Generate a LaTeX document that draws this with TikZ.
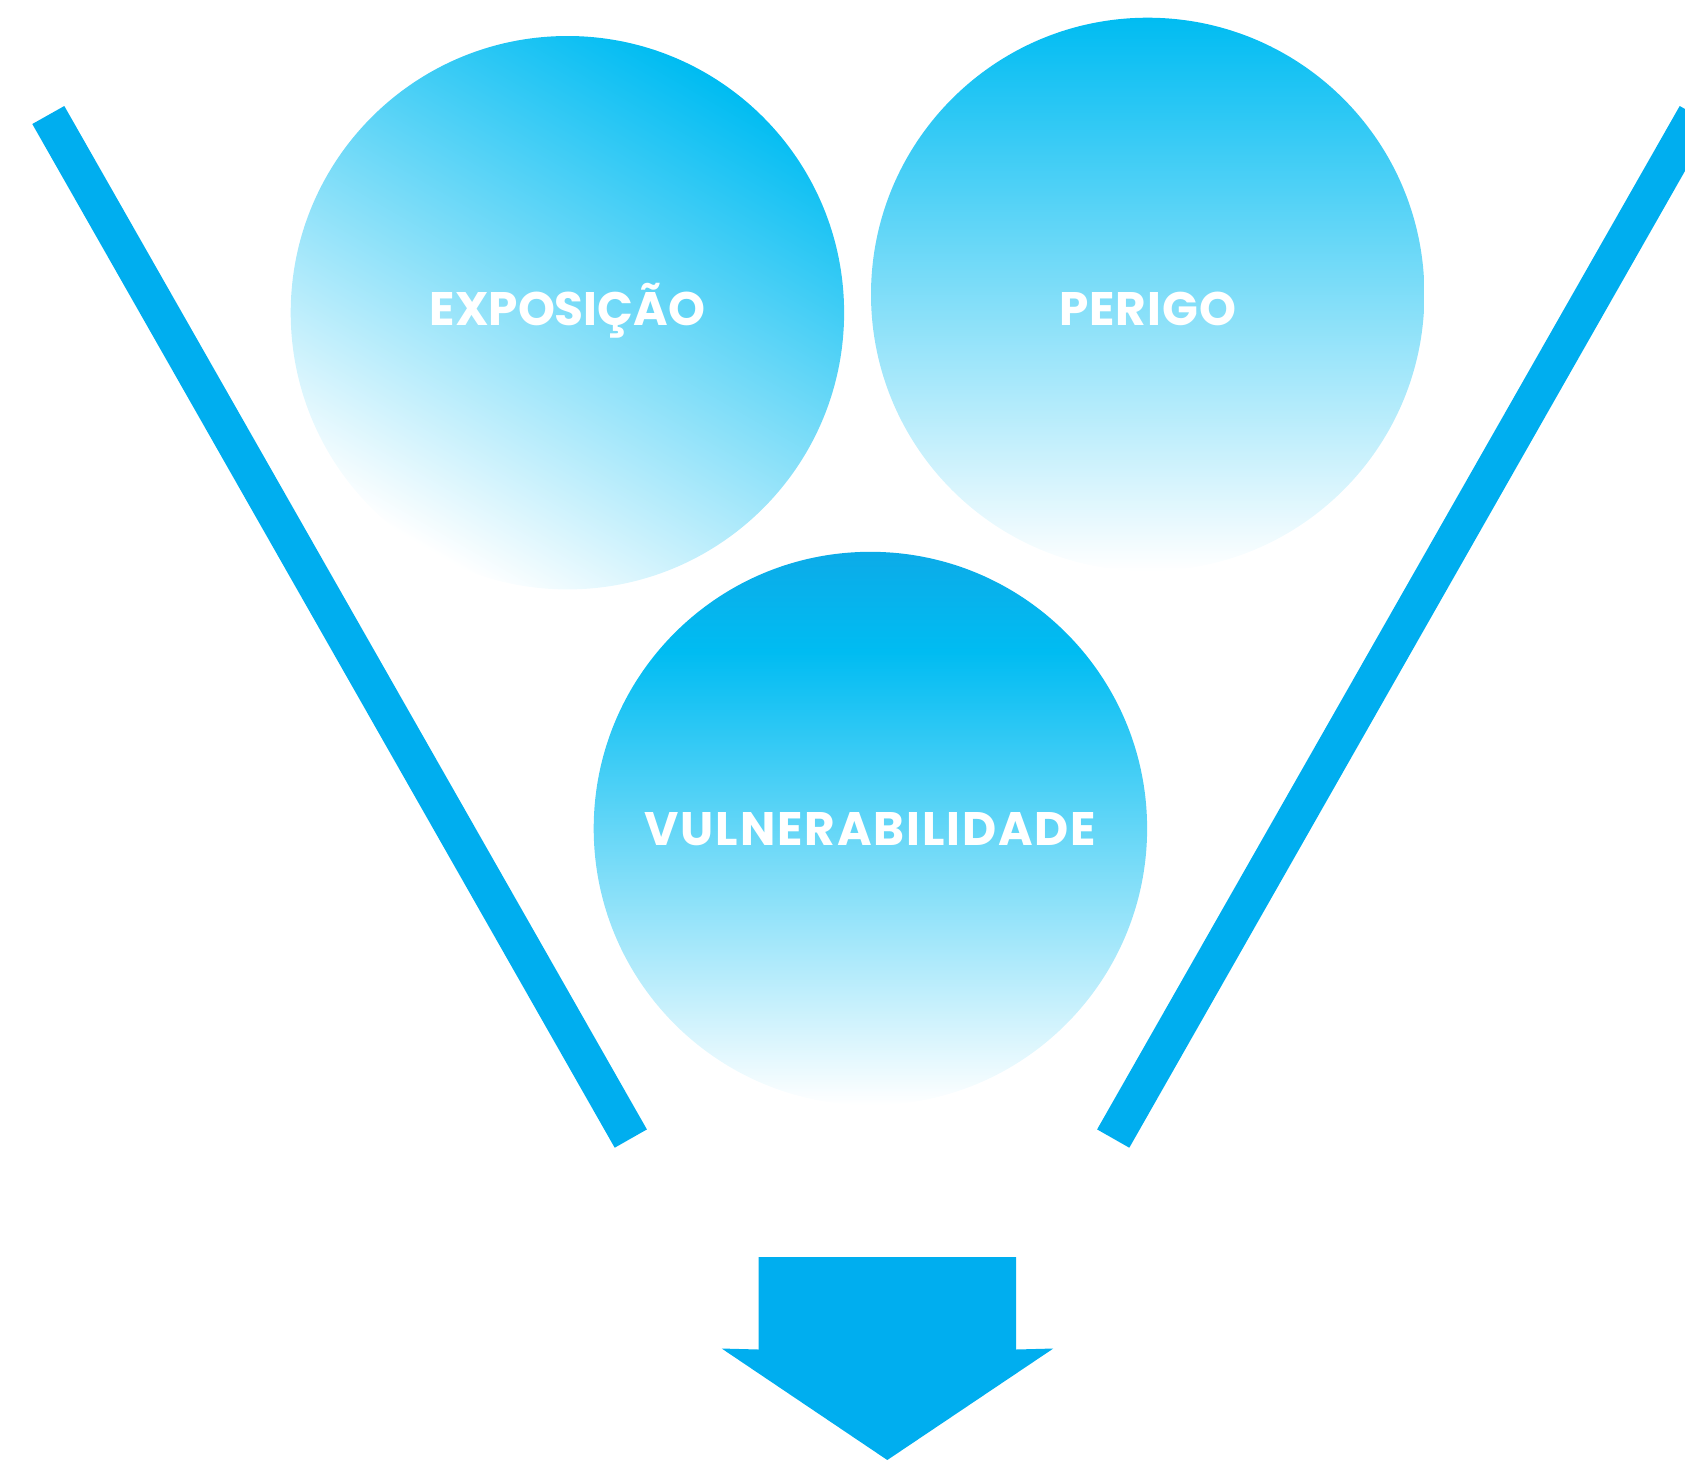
\documentclass[tikz,border=0pt]{standalone}
\usepackage{fontspec}
\usetikzlibrary{positioning}
\newfontfamily\lblfont{Poppins}
\definecolor{barblue}{HTML}{00AEEF}
\definecolor{circblue}{HTML}{00BCF2}
\definecolor{deepblue}{HTML}{0CABE8}
\pgfdeclareverticalshading{vulnshade}{100bp}{color(0bp)=(deepblue); color(25bp)=(deepblue); color(34bp)=(circblue); color(75bp)=(white); color(100bp)=(white)}

\begin{document}
\begin{tikzpicture}[x=1pt,y=-1pt,
  lbl/.style={text=white,anchor=base,font=\lblfont\bfseries\fontsize{47}{52}\selectfont}]
\useasboundingbox (0,0) rectangle (1685,1460);
\clip (0,0) rectangle (1685,1460);

\fill[barblue] (32.3,124) -- (64.3,106) -- (646.9,1129.4) -- (614.7,1147.7) -- cycle;%barre gauche
\fill[barblue] (1679.7,106) -- (1711.7,124) -- (1129.3,1147.7) -- (1097.1,1129.4) -- cycle;%barre droite

\coordinate (expo) at (567.4,312.7);
\coordinate (perigo) at (1147.7,294.4);
\coordinate (vuln) at (870.4,828.5);

\shade[top color=circblue,bottom color=white,shading angle=-30] (expo) circle (276.7);
\shade[top color=white,bottom color=circblue,shading angle=180] (perigo) circle (276.7);
\shade[shading=vulnshade,shading angle=180] (vuln) circle (276.7);

\node[lbl] (expolbl) at ([yshift=-13pt]expo) {EXPOSIÇÃO};
\node[lbl] (perigolbl) at ([yshift=-31pt]perigo) {\addfontfeature{LetterSpace=2}PERIGO};
\node[lbl] (vulnlbl) at ([yshift=-17pt]vuln) {\addfontfeature{LetterSpace=4}VULNERABILIDADE};

\fill[barblue] (758.7,1257) -- (1016,1257) -- (1016,1349.5) -- (1053.3,1348.5) -- (887.3,1460)
  -- (721.7,1348.5) -- (758.7,1349.5) -- cycle;%la fleche
\end{tikzpicture}
\end{document}
